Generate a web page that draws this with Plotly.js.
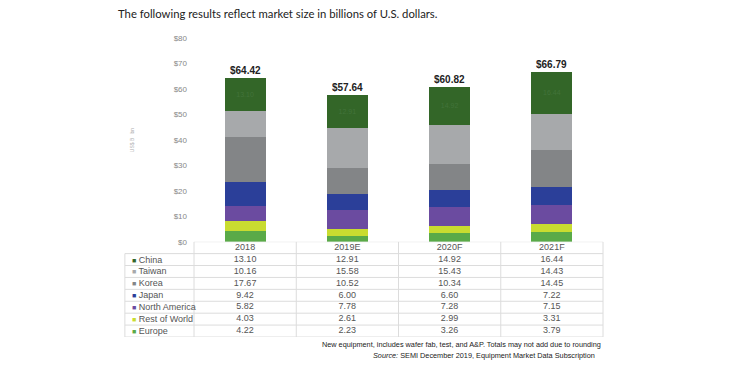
<!DOCTYPE html>
<html>
<head>
<meta charset="utf-8">
<script src="https://cdn.plot.ly/plotly-3.0.1.min.js"></script>
<style>html,body{margin:0;padding:0;background:#fff;}#chart{width:738px;height:376px;}</style>
</head>
<body>
<div id="chart"></div>
<script>
// ---- data ----
const categories = ['2018', '2019E', '2020F', '2021F'];
const china = [13.10, 12.91, 14.92, 16.44];
const taiwan = [10.16, 15.58, 15.43, 14.43];
const korea = [17.67, 10.52, 10.34, 14.45];
const japan = [9.42, 6.00, 6.60, 7.22];
const northAmerica = [5.82, 7.78, 7.28, 7.15];
const restOfWorld = [4.03, 2.61, 2.99, 3.31];
const europe = [4.22, 2.23, 3.26, 3.79];
const totals = [64.42, 57.64, 60.82, 66.79];
const regionNames = ['China', 'Taiwan', 'Korea', 'Japan', 'North America', 'Rest of World', 'Europe'];
const yTickVals = [0, 10, 20, 30, 40, 50, 60, 70, 80];

const DOLLAR = '&#36;';

const seriesByName = {
  'China': china, 'Taiwan': taiwan, 'Korea': korea, 'Japan': japan,
  'North America': northAmerica, 'Rest of World': restOfWorld, 'Europe': europe
};
const colors = {
  'China': '#336628', 'Taiwan': '#a7a9ab', 'Korea': '#838587', 'Japan': '#2b3f99',
  'North America': '#6b4ba0', 'Rest of World': '#c9dc30', 'Europe': '#5aaa48'
};

const stackOrder = regionNames.slice().reverse(); // bottom -> top
const traces = stackOrder.map(name => {
  const t = {
    type: 'bar', name: name, x: categories, y: seriesByName[name],
    marker: {color: colors[name]}, width: 0.4, showlegend: false, hoverinfo: 'skip',
    xaxis: 'x', yaxis: 'y'
  };
  if (name === 'China') {
    t.text = china.map(v => v.toFixed(2));
    t.textposition = 'inside';
    t.insidetextanchor = 'middle';
    t.textfont = {family: 'Liberation Sans, Arial', size: 7, color: '#42733a'};
  } else {
    t.textposition = 'none';
  }
  return t;
});

// table rows as text traces in a second subplot
const rowCats = ['Year'].concat(regionNames);
const tableFont = {family: 'Liberation Sans, Arial', size: 9, color: '#555'};
traces.push({
  type: 'scatter', mode: 'text', x: categories, y: categories.map(() => 'Year'),
  text: categories, textfont: tableFont, xaxis: 'x', yaxis: 'y2',
  showlegend: false, hoverinfo: 'skip', cliponaxis: false
});
regionNames.forEach(name => {
  traces.push({
    type: 'scatter', mode: 'text', x: categories, y: categories.map(() => name),
    text: seriesByName[name].map(v => v.toFixed(2)), textfont: tableFont,
    xaxis: 'x', yaxis: 'y2', showlegend: false, hoverinfo: 'skip', cliponaxis: false
  });
});

const lineColor = '#dcdcdc';
const labelLeft = -0.169;
const shapes = [];
for (let i = 0; i <= rowCats.length; i++) {
  const yv = i - 0.5;
  shapes.push({type: 'line', xref: 'paper', yref: 'y2', x0: i === 0 ? 0 : labelLeft, x1: 1,
    y0: yv, y1: yv, line: {color: lineColor, width: 1}});
}
for (let c = 0; c <= categories.length; c++) {
  shapes.push({type: 'line', xref: 'paper', yref: 'y2', x0: c / categories.length, x1: c / categories.length,
    y0: -0.5, y1: rowCats.length - 0.5, line: {color: lineColor, width: 1}});
}
shapes.push({type: 'line', xref: 'paper', yref: 'y2', x0: labelLeft, x1: labelLeft,
  y0: 0.5, y1: rowCats.length - 0.5, line: {color: lineColor, width: 1}});

const annotations = [];
categories.forEach((c, i) => {
  annotations.push({
    xref: 'x', yref: 'y', x: i, y: totals[i], text: '<b>' + DOLLAR + totals[i].toFixed(2) + '</b>',
    showarrow: false, yanchor: 'bottom', yshift: 0,
    font: {family: 'Liberation Sans, Arial', size: 10, color: '#222'}
  });
});
regionNames.forEach(name => {
  annotations.push({
    xref: 'paper', yref: 'y2', x: labelLeft + 0.012, y: name, xanchor: 'left',
    text: '<span style="color:' + colors[name] + ';font-size:7px">■</span> ' + name,
    showarrow: false, font: tableFont
  });
});
annotations.push({
  xref: 'paper', yref: 'paper', x: 1, y: -0.003, xanchor: 'right', yanchor: 'top',
  text: 'New equipment, includes wafer fab, test, and A&P. Totals may not add due to rounding',
  showarrow: false, font: {family: 'Liberation Sans, Arial', size: 7.3, color: '#222'}
});
annotations.push({
  xref: 'paper', yref: 'paper', x: 0.985, y: -0.04, xanchor: 'right', yanchor: 'top',
  text: '<i>Source:</i> SEMI December 2019, Equipment Market Data Subscription',
  showarrow: false, font: {family: 'Liberation Sans, Arial', size: 7.3, color: '#222'}
});
annotations.push({
  xref: 'paper', yref: 'y', x: -0.163, y: 40, textangle: -90,
  text: 'US' + DOLLAR + ' B   bn', showarrow: false,
  font: {family: 'Liberation Sans, Arial', size: 5, color: '#aaa'}
});

const mainBottom = (337 - 241.7) / 299;
const layout = {
  width: 738, height: 376,
  margin: {l: 194, r: 135, t: 38, b: 39, pad: 0},
  paper_bgcolor: '#fff', plot_bgcolor: '#fff',
  barmode: 'stack',
  title: {
    text: 'The following results reflect market size in billions of U.S. dollars.',
    x: 118 / 738, xanchor: 'left', xref: 'container',
    y: 1 - 14 / 376, yanchor: 'middle', yref: 'container',
    font: {family: 'Lato, Open Sans, sans-serif', size: 11.3, color: '#222'}
  },
  xaxis: {
    type: 'category', range: [-0.5, 3.5], showticklabels: false, showgrid: false,
    zeroline: false, showline: false, ticks: '', anchor: 'y', fixedrange: true
  },
  yaxis: {
    domain: [mainBottom, 1], range: [0, 80], tickmode: 'array', tickvals: yTickVals,
    ticktext: yTickVals.map(v => DOLLAR + v),
    showgrid: false, zeroline: false, showline: false, ticks: '', ticklabelstandoff: 6,
    tickfont: {family: 'Liberation Sans, Arial', size: 8, color: '#888'}
  },
  yaxis2: {
    domain: [0, mainBottom], type: 'category', categoryarray: rowCats, categoryorder: 'array',
    range: [rowCats.length - 0.5, -0.5], showticklabels: false, showgrid: false,
    zeroline: false, showline: false, ticks: '', anchor: 'x'
  },
  shapes: shapes,
  annotations: annotations,
  showlegend: false
};

Plotly.newPlot('chart', traces, layout, {staticPlot: true, displayModeBar: false});
</script>
</body>
</html>
